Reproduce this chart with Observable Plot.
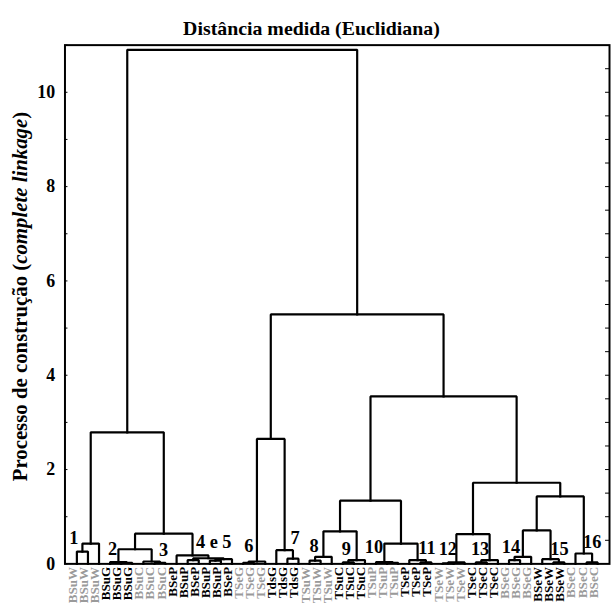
<!DOCTYPE html>
<html><head><meta charset="utf-8">
<script src="https://cdn.jsdelivr.net/npm/d3@7"></script>
<script src="https://cdn.jsdelivr.net/npm/@observablehq/plot@0.6"></script>
<style>
html,body{margin:0;padding:0;background:#fff;overflow:hidden;}
#chart{position:relative;width:611px;height:609px;overflow:hidden;}
</style></head><body><div id="chart"></div>
<script>
// Leaf labels (left to right)
const leafLabels = ["BSuW","BSuW","BSuW","BSuG","BSuG","BSuG","BSuC","BSuC","BSuC",
  "BSeP","BSuP","BSeP","BSuP","BSuP","BSeP","TSeG","TSeG","TSeG","TdsG","TdsG","TdsG",
  "TSuW","TSuW","TSuW","TSuC","TSuC","TSuC","TSuP","TSuP","TSuP","TSeP","TSeP","TSeP",
  "TSeW","TSeW","TSeW","TSeC","TSeC","TSeC","BSeG","BSeG","BSeG","BSeW","BSeW","BSeW",
  "BSeC","BSeC","BSeC"];
// shade of each triple of leaf labels
const tripleShade = ["gray","black","gray","black","black","gray","black","gray",
  "black","gray","black","gray","black","gray","black","gray"];
// linkage: [child a, child b, distance]; ids >= 48 refer to earlier merges
const linkage = [
  [0,1,0.26],[48,2,0.43],
  [4,5,0.02],[3,50,0.04],
  [7,8,0.02],[6,52,0.05],[51,53,0.31],
  [10,11,0.08],[12,13,0.07],[56,14,0.10],[55,57,0.12],[9,58,0.18],
  [54,59,0.64],[49,60,2.79],
  [15,16,0.02],[62,17,0.05],
  [19,20,0.11],[18,64,0.29],[63,65,2.65],
  [21,22,0.07],[67,23,0.15],
  [24,25,0.03],[69,26,0.08],[68,70,0.69],
  [28,29,0.02],[27,72,0.04],
  [31,32,0.03],[30,74,0.08],[73,75,0.43],[71,76,1.34],
  [33,34,0.01],[78,35,0.03],
  [36,37,0.03],[80,38,0.08],[79,81,0.63],
  [39,40,0.08],[83,41,0.15],
  [43,44,0.03],[42,85,0.10],[84,86,0.71],
  [46,47,0.03],[45,88,0.22],[87,89,1.43],
  [82,90,1.72],[77,91,3.55],[66,92,5.29],[61,93,10.9]
];
// cluster annotations
const groupNames = ["1","2","3","4 e 5","6","7","8","9","10","11","12","13","14","15","16"];
const groupNameX = [-0.27,3.22,7.83,12.35,15.53,19.70,21.40,24.31,26.81,31.60,33.48,36.39,39.17,43.55,46.51];
const groupNameY = [0.54,0.32,0.30,0.46,0.38,0.55,0.38,0.32,0.35,0.33,0.32,0.32,0.36,0.32,0.46];
const yTickValues = [0,2,4,6,8,10];
const yMinorTicks = [0,1,2,3,4,5,6,7,8,9,10,11];
const rightTicks = [0.5,1,1.5,2,2.5,3,3.5,4,4.5,5,5.5,6,6.5,7,7.5,8,8.5,9,9.5,10,10.5];
const titleText = "Distância medida (Euclidiana)";
const yLabelMain = "Processo de construção (";
const yLabelItalic = "complete linkage";
const yLabelEnd = ")";

const SERIF = "'Liberation Serif', 'Times New Roman', serif";
const nodeX = leafLabels.map((_, i) => i);
const nodeH = leafLabels.map(() => 0);
const pts = [];
linkage.forEach(([a, b, h], k) => {
  pts.push({id: k, x: nodeX[a], y: nodeH[a]});
  pts.push({id: k, x: nodeX[a], y: h});
  pts.push({id: k, x: nodeX[b], y: h});
  pts.push({id: k, x: nodeX[b], y: nodeH[b]});
  nodeX.push((nodeX[a] + nodeX[b]) / 2);
  nodeH.push(h);
});
const leafColor = leafLabels.map((_, i) => tripleShade[Math.floor(i / 3)] === "gray" ? "#9a9a9a" : "#000");

const plot = Plot.plot({
  width: 616, height: 609,
  marginLeft: 65, marginRight: 2, marginTop: 45, marginBottom: 41,
  style: {fontFamily: SERIF, background: "#fff"},
  x: {domain: [-1.074, 48.07], axis: null},
  y: {domain: [0, 11], axis: null},
  color: {type: "identity"},
  marks: [
    Plot.line(pts, {x: "x", y: "y", z: "id", stroke: "#000", strokeWidth: 2.2, strokeLinejoin: "miter", strokeLinecap: "square"}),
    Plot.frame({stroke: "#000", strokeWidth: 2}),
    Plot.axisY(yTickValues, {anchor: "left", tickSize: 0, tickPadding: 10, fontSize: 18, fontWeight: "bold", fontFamily: SERIF, fill: "#000", label: null}),
    Plot.axisY(yMinorTicks, {anchor: "left", tickSize: -3, tickFormat: () => "", label: null, stroke: "#000"}),
    Plot.axisY(rightTicks, {anchor: "right", tickSize: -5, tickFormat: () => "", label: null, stroke: "#000"}),
    Plot.text(leafLabels, {x: (d, i) => i, y: () => 0, text: d => d, rotate: -90, textAnchor: "end", lineAnchor: "bottom", dy: 3, dx: 0,
      fill: (d, i) => leafColor[i], fontSize: 13.2, fontWeight: "bold", fontFamily: SERIF}),
    Plot.text(groupNames, {x: (d, i) => groupNameX[i], y: (d, i) => groupNameY[i], text: d => d, fontSize: 18.5, fontWeight: "bold", fontFamily: SERIF, fill: "#000"})
  ]
});
const svg = d3.select(plot);
svg.append("text").attr("x", 314).attr("y", 35).attr("text-anchor", "middle")
  .attr("font-family", SERIF).attr("font-weight", "bold").attr("font-size", 20).attr("fill", "#000")
  .text(titleText);
const yl = svg.append("text").attr("transform", "translate(27,299) rotate(-90)").attr("text-anchor", "middle")
  .attr("font-family", SERIF).attr("font-weight", "bold").attr("font-size", 21).attr("fill", "#000");
yl.append("tspan").text(yLabelMain);
yl.append("tspan").attr("font-style", "italic").text(yLabelItalic);
yl.append("tspan").text(yLabelEnd);
document.getElementById("chart").appendChild(plot);
</script>
</body></html>
